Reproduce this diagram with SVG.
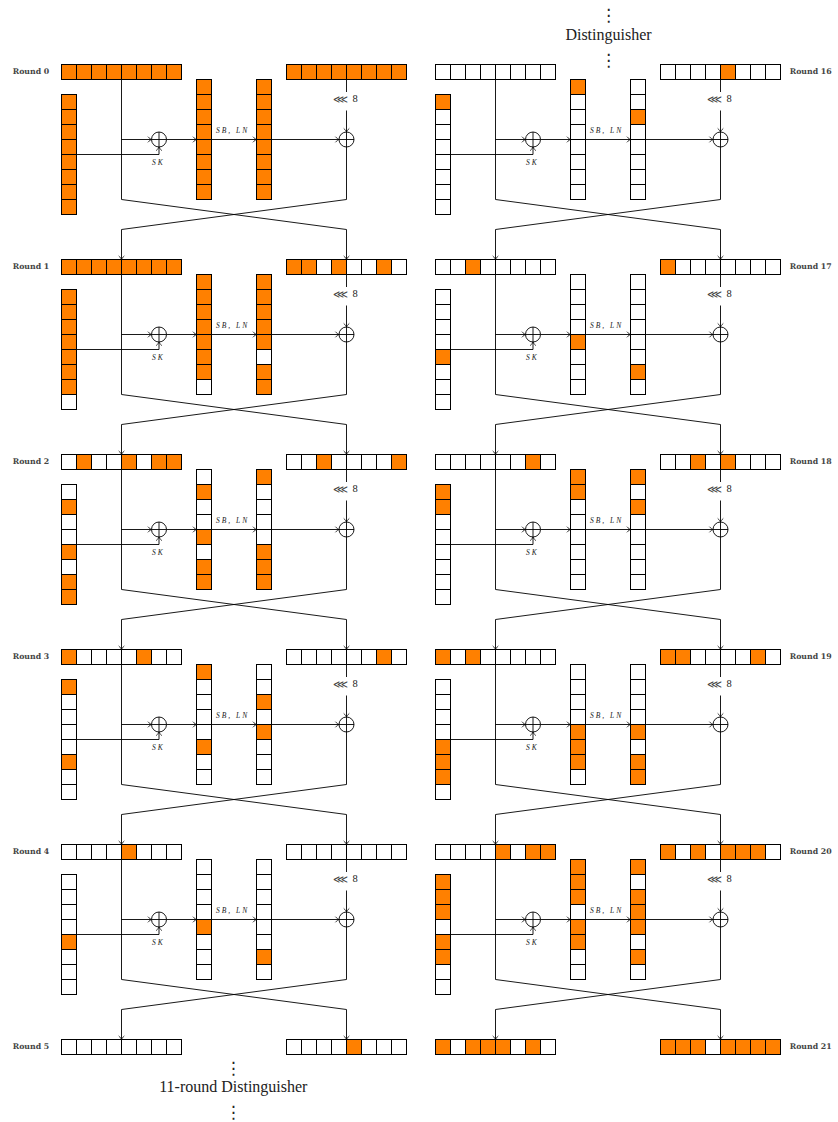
<svg xmlns="http://www.w3.org/2000/svg" xmlns:xlink="http://www.w3.org/1999/xlink" width="838" height="1122" viewBox="0 0 838 1122">
<style>
.o{fill:#FF8000}
.g{fill:none;stroke:#000;stroke-width:1}
.ln{fill:none;stroke:#000;stroke-width:0.9}
.a{marker-end:url(#ah)}
.lab{font-family:"DejaVu Serif",serif;font-weight:bold;font-size:7.8px;fill:#444}
.it{font-family:"Liberation Serif",serif;font-style:italic;font-size:7.5px;letter-spacing:2px;fill:#222}
.lll{font-family:"DejaVu Sans",sans-serif;font-size:11px;fill:#444}
.num{font-family:"Liberation Serif",serif;font-size:10.5px;fill:#222}
.big{font-family:"Liberation Serif",serif;font-size:16px;fill:#222}
.dots{font-family:"DejaVu Sans",sans-serif;font-size:17px;fill:#222}
</style>
<defs>
<marker id="ah" viewBox="-5 -4 6 8" markerWidth="6" markerHeight="8" refX="0" refY="0" orient="auto" markerUnits="userSpaceOnUse"><path d="M-3.6,-2.8C-2.2,-1.2 -0.8,-0.3 0,0C-0.8,0.3 -2.2,1.2 -3.6,2.8" fill="none" stroke="#000" stroke-width="0.8"/></marker>
<g id="hrow"><rect class="g" width="120" height="15"/><path class="g" d="M15,0v15M30,0v15M45,0v15M60,0v15M75,0v15M90,0v15M105,0v15"/></g>
<g id="vcol"><rect class="g" width="15" height="120"/><path class="g" d="M0,15h15M0,30h15M0,45h15M0,60h15M0,75h15M0,90h15M0,105h15"/></g>
<g id="conn" class="ln">
<path class="a" d="M121.5,15V135L346.5,165V195"/>
<path class="a" d="M346.5,82.5V135L121.5,165V195"/>
<path class="a" d="M121.5,75H151.5"/>
<path class="a" d="M166.5,75H196.5"/>
<path class="a" d="M211.5,75H256.5"/>
<path class="a" d="M271.5,75H339"/>
<path class="a" d="M76.5,90H159V82.5"/>
<path d="M346.5,15V27.5"/>
<path class="a" d="M346.5,46V67.5"/>
<circle cx="159" cy="75" r="7.5"/><path d="M151.5,75H166.5M159,67.5V82.5"/>
<circle cx="346.5" cy="75" r="7.5"/><path d="M339,75H354M346.5,67.5V82.5"/>
</g>
</defs>
<rect width="838" height="1122" fill="#fff"/>

<g id="connectors">
<use href="#conn" transform="translate(0,64.5)"/>
<use href="#conn" transform="translate(0,259.5)"/>
<use href="#conn" transform="translate(0,454.5)"/>
<use href="#conn" transform="translate(0,649.5)"/>
<use href="#conn" transform="translate(0,844.5)"/>
<use href="#conn" transform="translate(374,64.5)"/>
<use href="#conn" transform="translate(374,259.5)"/>
<use href="#conn" transform="translate(374,454.5)"/>
<use href="#conn" transform="translate(374,649.5)"/>
<use href="#conn" transform="translate(374,844.5)"/>
</g>

<g id="op-labels">
<text class="it" x="216" y="133.3">SB, LN</text><text class="it" x="152" y="165">SK</text><text class="lll" x="333" y="102.5" textLength="15" lengthAdjust="spacingAndGlyphs">⋘</text><text class="num" x="352.5" y="102.3">8</text>
<text class="it" x="216" y="328.3">SB, LN</text><text class="it" x="152" y="360">SK</text><text class="lll" x="333" y="297.5" textLength="15" lengthAdjust="spacingAndGlyphs">⋘</text><text class="num" x="352.5" y="297.3">8</text>
<text class="it" x="216" y="523.3">SB, LN</text><text class="it" x="152" y="555">SK</text><text class="lll" x="333" y="492.5" textLength="15" lengthAdjust="spacingAndGlyphs">⋘</text><text class="num" x="352.5" y="492.3">8</text>
<text class="it" x="216" y="718.3">SB, LN</text><text class="it" x="152" y="750">SK</text><text class="lll" x="333" y="687.5" textLength="15" lengthAdjust="spacingAndGlyphs">⋘</text><text class="num" x="352.5" y="687.3">8</text>
<text class="it" x="216" y="913.3">SB, LN</text><text class="it" x="152" y="945">SK</text><text class="lll" x="333" y="882.5" textLength="15" lengthAdjust="spacingAndGlyphs">⋘</text><text class="num" x="352.5" y="882.3">8</text>
<text class="it" x="590" y="133.3">SB, LN</text><text class="it" x="526" y="165">SK</text><text class="lll" x="707" y="102.5" textLength="15" lengthAdjust="spacingAndGlyphs">⋘</text><text class="num" x="726.5" y="102.3">8</text>
<text class="it" x="590" y="328.3">SB, LN</text><text class="it" x="526" y="360">SK</text><text class="lll" x="707" y="297.5" textLength="15" lengthAdjust="spacingAndGlyphs">⋘</text><text class="num" x="726.5" y="297.3">8</text>
<text class="it" x="590" y="523.3">SB, LN</text><text class="it" x="526" y="555">SK</text><text class="lll" x="707" y="492.5" textLength="15" lengthAdjust="spacingAndGlyphs">⋘</text><text class="num" x="726.5" y="492.3">8</text>
<text class="it" x="590" y="718.3">SB, LN</text><text class="it" x="526" y="750">SK</text><text class="lll" x="707" y="687.5" textLength="15" lengthAdjust="spacingAndGlyphs">⋘</text><text class="num" x="726.5" y="687.3">8</text>
<text class="it" x="590" y="913.3">SB, LN</text><text class="it" x="526" y="945">SK</text><text class="lll" x="707" y="882.5" textLength="15" lengthAdjust="spacingAndGlyphs">⋘</text><text class="num" x="726.5" y="882.3">8</text>
</g>

<g id="round-labels">
<text class="lab" x="12.7" y="74">Round 0</text>
<text class="lab" x="12.7" y="269">Round 1</text>
<text class="lab" x="12.7" y="464">Round 2</text>
<text class="lab" x="12.7" y="659">Round 3</text>
<text class="lab" x="12.7" y="854">Round 4</text>
<text class="lab" x="12.7" y="1049">Round 5</text>
<text class="lab" x="789.7" y="74">Round 16</text>
<text class="lab" x="789.7" y="269">Round 17</text>
<text class="lab" x="789.7" y="464">Round 18</text>
<text class="lab" x="789.7" y="659">Round 19</text>
<text class="lab" x="789.7" y="854">Round 20</text>
<text class="lab" x="789.7" y="1049">Round 21</text>
</g>

<g id="captions">
<text class="dots" x="608.5" y="21" text-anchor="middle">⋮</text>
<text class="big" x="608.5" y="40" text-anchor="middle">Distinguisher</text>
<text class="dots" x="608.5" y="66" text-anchor="middle">⋮</text>
<text class="dots" x="233.3" y="1074" text-anchor="middle">⋮</text>
<text class="big" x="233.3" y="1092" text-anchor="middle">11-round Distinguisher</text>
<text class="dots" x="233.3" y="1118" text-anchor="middle">⋮</text>
</g>

<!-- Round 0 -->
<g id="r0-a" transform="translate(61.5,64.5)"><rect class="o" width="120" height="15"/><use href="#hrow"/></g>
<g id="r0-b" transform="translate(286.5,64.5)"><rect class="o" width="120" height="15"/><use href="#hrow"/></g>
<g id="r0-k" transform="translate(61.5,94.5)"><rect class="o" width="15" height="120"/><use href="#vcol"/></g>
<g id="r0-s" transform="translate(196.5,79.5)"><rect class="o" width="15" height="120"/><use href="#vcol"/></g>
<g id="r0-t" transform="translate(256.5,79.5)"><rect class="o" width="15" height="120"/><use href="#vcol"/></g>
<!-- Round 1 -->
<g id="r1-a" transform="translate(61.5,259.5)"><rect class="o" width="120" height="15"/><use href="#hrow"/></g>
<g id="r1-b" transform="translate(286.5,259.5)"><rect class="o" x="0" width="30" height="15"/><rect class="o" x="45" width="15" height="15"/><rect class="o" x="90" width="15" height="15"/><use href="#hrow"/></g>
<g id="r1-k" transform="translate(61.5,289.5)"><rect class="o" width="15" height="105"/><use href="#vcol"/></g>
<g id="r1-s" transform="translate(196.5,274.5)"><rect class="o" width="15" height="105"/><use href="#vcol"/></g>
<g id="r1-t" transform="translate(256.5,274.5)"><rect class="o" width="15" height="75"/><rect class="o" y="90" width="15" height="30"/><use href="#vcol"/></g>
<!-- Round 2 -->
<g id="r2-a" transform="translate(61.5,454.5)"><rect class="o" x="15" width="15" height="15"/><rect class="o" x="60" width="15" height="15"/><rect class="o" x="90" width="30" height="15"/><use href="#hrow"/></g>
<g id="r2-b" transform="translate(286.5,454.5)"><rect class="o" x="30" width="15" height="15"/><rect class="o" x="105" width="15" height="15"/><use href="#hrow"/></g>
<g id="r2-k" transform="translate(61.5,484.5)"><rect class="o" y="15" width="15" height="15"/><rect class="o" y="60" width="15" height="15"/><rect class="o" y="90" width="15" height="30"/><use href="#vcol"/></g>
<g id="r2-s" transform="translate(196.5,469.5)"><rect class="o" y="15" width="15" height="15"/><rect class="o" y="60" width="15" height="15"/><rect class="o" y="90" width="15" height="30"/><use href="#vcol"/></g>
<g id="r2-t" transform="translate(256.5,469.5)"><rect class="o" y="0" width="15" height="15"/><rect class="o" y="75" width="15" height="45"/><use href="#vcol"/></g>
<!-- Round 3 -->
<g id="r3-a" transform="translate(61.5,649.5)"><rect class="o" x="0" width="15" height="15"/><rect class="o" x="75" width="15" height="15"/><use href="#hrow"/></g>
<g id="r3-b" transform="translate(286.5,649.5)"><rect class="o" x="90" width="15" height="15"/><use href="#hrow"/></g>
<g id="r3-k" transform="translate(61.5,679.5)"><rect class="o" y="0" width="15" height="15"/><rect class="o" y="75" width="15" height="15"/><use href="#vcol"/></g>
<g id="r3-s" transform="translate(196.5,664.5)"><rect class="o" y="0" width="15" height="15"/><rect class="o" y="75" width="15" height="15"/><use href="#vcol"/></g>
<g id="r3-t" transform="translate(256.5,664.5)"><rect class="o" y="30" width="15" height="15"/><rect class="o" y="60" width="15" height="15"/><use href="#vcol"/></g>
<!-- Round 4 -->
<g id="r4-a" transform="translate(61.5,844.5)"><rect class="o" x="60" width="15" height="15"/><use href="#hrow"/></g>
<g id="r4-b" transform="translate(286.5,844.5)"><use href="#hrow"/></g>
<g id="r4-k" transform="translate(61.5,874.5)"><rect class="o" y="60" width="15" height="15"/><use href="#vcol"/></g>
<g id="r4-s" transform="translate(196.5,859.5)"><rect class="o" y="60" width="15" height="15"/><use href="#vcol"/></g>
<g id="r4-t" transform="translate(256.5,859.5)"><rect class="o" y="90" width="15" height="15"/><use href="#vcol"/></g>
<!-- Round 5 -->
<g id="r5-a" transform="translate(61.5,1039.5)"><use href="#hrow"/></g>
<g id="r5-b" transform="translate(286.5,1039.5)"><rect class="o" x="60" width="15" height="15"/><use href="#hrow"/></g>

<!-- Round 16 -->
<g id="r16-a" transform="translate(435.5,64.5)"><use href="#hrow"/></g>
<g id="r16-b" transform="translate(660.5,64.5)"><rect class="o" x="60" width="15" height="15"/><use href="#hrow"/></g>
<g id="r16-k" transform="translate(435.5,94.5)"><rect class="o" y="0" width="15" height="15"/><use href="#vcol"/></g>
<g id="r16-s" transform="translate(570.5,79.5)"><rect class="o" y="0" width="15" height="15"/><use href="#vcol"/></g>
<g id="r16-t" transform="translate(630.5,79.5)"><rect class="o" y="30" width="15" height="15"/><use href="#vcol"/></g>
<!-- Round 17 -->
<g id="r17-a" transform="translate(435.5,259.5)"><rect class="o" x="30" width="15" height="15"/><use href="#hrow"/></g>
<g id="r17-b" transform="translate(660.5,259.5)"><rect class="o" x="0" width="15" height="15"/><use href="#hrow"/></g>
<g id="r17-k" transform="translate(435.5,289.5)"><rect class="o" y="60" width="15" height="15"/><use href="#vcol"/></g>
<g id="r17-s" transform="translate(570.5,274.5)"><rect class="o" y="60" width="15" height="15"/><use href="#vcol"/></g>
<g id="r17-t" transform="translate(630.5,274.5)"><rect class="o" y="90" width="15" height="15"/><use href="#vcol"/></g>
<!-- Round 18 -->
<g id="r18-a" transform="translate(435.5,454.5)"><rect class="o" x="90" width="15" height="15"/><use href="#hrow"/></g>
<g id="r18-b" transform="translate(660.5,454.5)"><rect class="o" x="30" width="15" height="15"/><rect class="o" x="60" width="15" height="15"/><use href="#hrow"/></g>
<g id="r18-k" transform="translate(435.5,484.5)"><rect class="o" y="0" width="15" height="30"/><use href="#vcol"/></g>
<g id="r18-s" transform="translate(570.5,469.5)"><rect class="o" y="0" width="15" height="30"/><use href="#vcol"/></g>
<g id="r18-t" transform="translate(630.5,469.5)"><rect class="o" y="0" width="15" height="15"/><rect class="o" y="30" width="15" height="15"/><use href="#vcol"/></g>
<!-- Round 19 -->
<g id="r19-a" transform="translate(435.5,649.5)"><rect class="o" x="0" width="15" height="15"/><rect class="o" x="30" width="15" height="15"/><use href="#hrow"/></g>
<g id="r19-b" transform="translate(660.5,649.5)"><rect class="o" x="0" width="30" height="15"/><rect class="o" x="90" width="15" height="15"/><use href="#hrow"/></g>
<g id="r19-k" transform="translate(435.5,679.5)"><rect class="o" y="60" width="15" height="45"/><use href="#vcol"/></g>
<g id="r19-s" transform="translate(570.5,664.5)"><rect class="o" y="60" width="15" height="45"/><use href="#vcol"/></g>
<g id="r19-t" transform="translate(630.5,664.5)"><rect class="o" y="60" width="15" height="15"/><rect class="o" y="90" width="15" height="30"/><use href="#vcol"/></g>
<!-- Round 20 -->
<g id="r20-a" transform="translate(435.5,844.5)"><rect class="o" x="60" width="15" height="15"/><rect class="o" x="90" width="30" height="15"/><use href="#hrow"/></g>
<g id="r20-b" transform="translate(660.5,844.5)"><rect class="o" x="0" width="15" height="15"/><rect class="o" x="30" width="15" height="15"/><rect class="o" x="60" width="45" height="15"/><use href="#hrow"/></g>
<g id="r20-k" transform="translate(435.5,874.5)"><rect class="o" y="0" width="15" height="45"/><rect class="o" y="60" width="15" height="30"/><use href="#vcol"/></g>
<g id="r20-s" transform="translate(570.5,859.5)"><rect class="o" y="0" width="15" height="45"/><rect class="o" y="60" width="15" height="30"/><use href="#vcol"/></g>
<g id="r20-t" transform="translate(630.5,859.5)"><rect class="o" y="0" width="15" height="15"/><rect class="o" y="30" width="15" height="45"/><rect class="o" y="90" width="15" height="15"/><use href="#vcol"/></g>
<!-- Round 21 -->
<g id="r21-a" transform="translate(435.5,1039.5)"><rect class="o" x="0" width="15" height="15"/><rect class="o" x="30" width="45" height="15"/><rect class="o" x="90" width="15" height="15"/><use href="#hrow"/></g>
<g id="r21-b" transform="translate(660.5,1039.5)"><rect class="o" x="0" width="45" height="15"/><rect class="o" x="60" width="60" height="15"/><use href="#hrow"/></g>
</svg>
